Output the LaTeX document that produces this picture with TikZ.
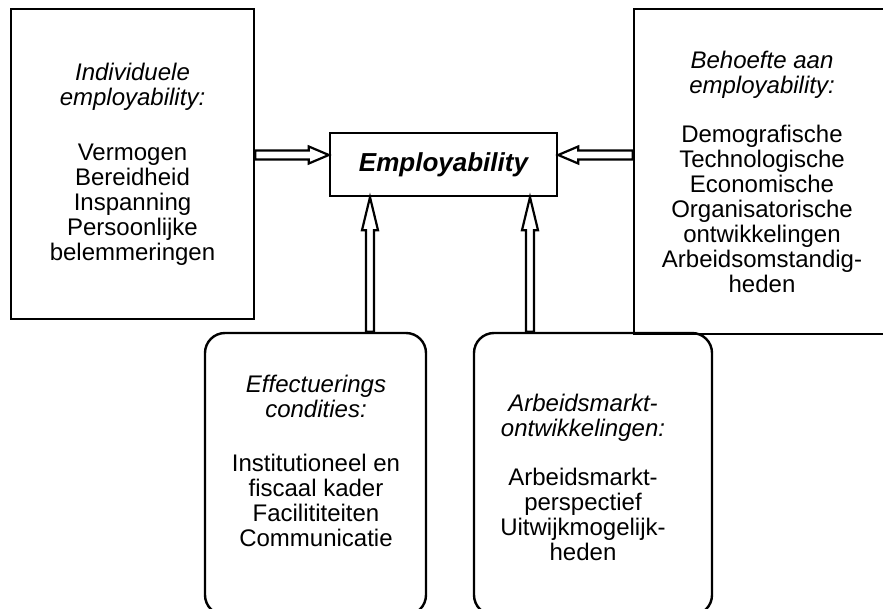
\documentclass[tikz,border=0pt]{standalone}
\usepackage{fontspec}
\setmainfont{Liberation Sans}

\tikzset{
  box/.style={draw, line width=1.2pt, inner sep=0pt, align=center},
  roundbox/.style={box, rounded corners=10pt},
  txt/.style={align=center, inner sep=0pt},
  blockarrow/.style={draw, line width=1.1pt}
}

\begin{document}
\begin{tikzpicture}[x=0.5pt,y=-0.5pt,font=\fontsize{12}{12.5}\selectfont]
\useasboundingbox (0,0) rectangle (883,609);

\node[box, minimum width=121.5pt, minimum height=155pt] (indiv) at (132.5,164)
  {\textit{Individuele}\\\textit{employability:}\\[15pt]Vermogen\\Bereidheid\\Inspanning\\Persoonlijke\\belemmeringen};
\node[box, minimum width=128pt, minimum height=162.5pt] (behoefte) at (762,171.5)
  {\textit{Behoefte aan}\\\textit{employability:}\\[12pt]Demografische\\Technologische\\Economische\\Organisatorische\\ontwikkelingen\\Arbeidsomstandig-\\heden};
\node[box, minimum width=113.5pt, minimum height=31.5pt, font=\fontsize{13}{15}\selectfont\bfseries\itshape] (empl) at (443.5,164.5) {Employability};

\node[roundbox, minimum width=110.5pt, minimum height=141pt] (effect) at (315.5,474) {};
\node[roundbox, minimum width=119pt, minimum height=141pt] (markt) at (593,474) {};
\node[txt] (effect-txt) at (316,461)
  {\textit{Effectuerings}\\\textit{condities:}\\[14.5pt]Institutioneel en\\fiscaal kader\\Facilititeiten\\Communicatie};
\node[txt] (markt-txt) at (583,477)
  {\textit{Arbeidsmarkt-}\\\textit{ontwikkelingen:}\\[12pt]Arbeidsmarkt-\\perspectief\\Uitwijkmogelijk-\\heden};

% horizontal arrows
\coordinate (tipA) at ([yshift=4.75pt]empl.west);
\coordinate (baseA) at (indiv.east |- tipA);
\draw[blockarrow] (tipA) -- ++(-20,-8.5) -- ++(0,4) -- ([yshift=2.25pt]baseA) -- ([yshift=-2.25pt]baseA) -- ([xshift=-10pt,yshift=-2.25pt]tipA) -- ++(0,4) -- cycle;

\coordinate (tipB) at ([yshift=4.75pt]empl.east);
\coordinate (baseB) at (behoefte.west |- tipB);
\draw[blockarrow] (tipB) -- ++(20,-8.5) -- ++(0,4) -- ([yshift=2.25pt]baseB) -- ([yshift=-2.25pt]baseB) -- ([xshift=10pt,yshift=-2.25pt]tipB) -- ++(0,4) -- cycle;

% vertical arrows
\foreach \s/\b [count=\i] in {-36.75/effect, 43.25/markt}{
  \coordinate (tip\i) at ([xshift=\s pt]empl.south);
  \coordinate (base\i) at (tip\i |- \b.north);
  \draw[blockarrow] (tip\i) -- ++(-8,33) -- ++(4,0) -- ([xshift=-2pt]base\i) -- ([xshift=2pt]base\i) -- ([xshift=2pt,yshift=-16.5pt]tip\i) -- ++(4,0) -- cycle;
}
\end{tikzpicture}
\end{document}
